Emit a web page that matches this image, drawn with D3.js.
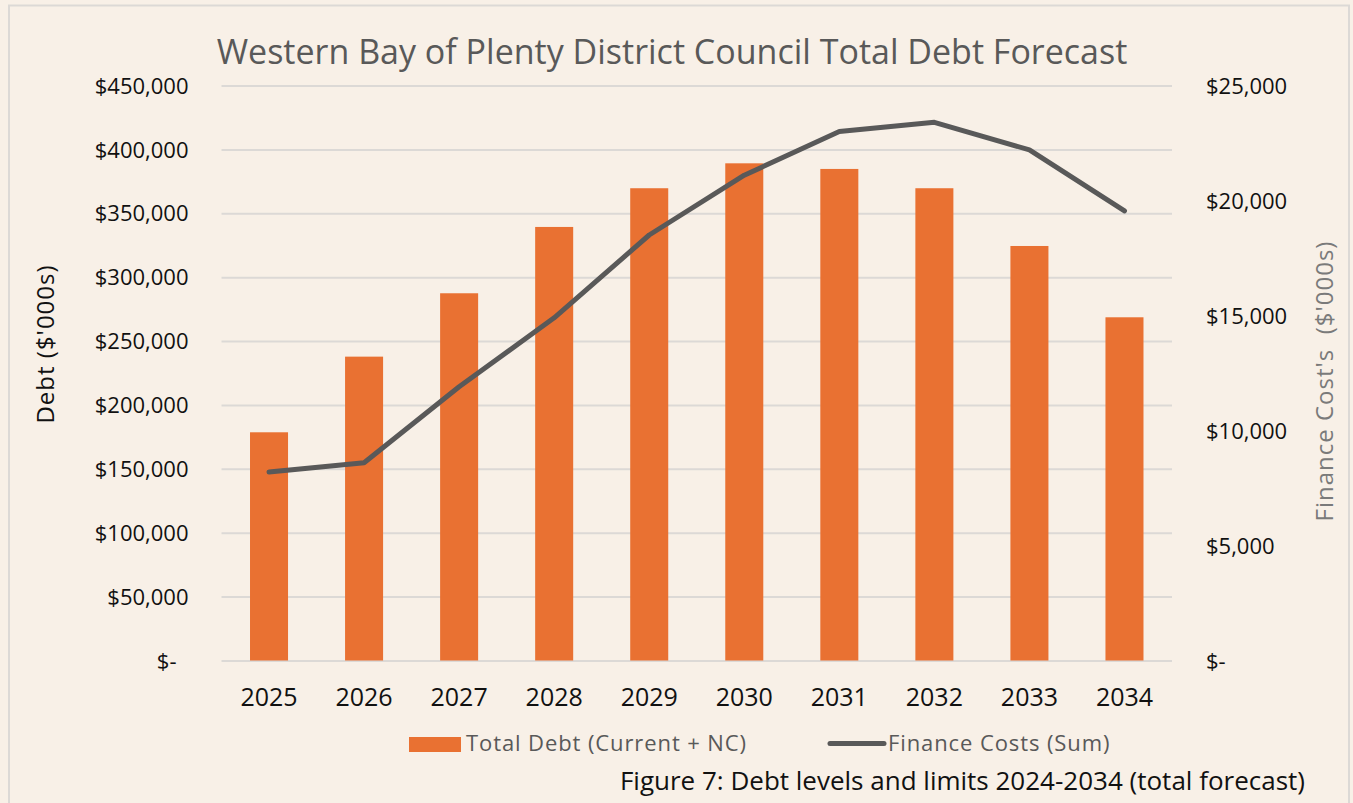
<!DOCTYPE html>
<html lang="en">
<head>
  <meta charset="UTF-8">
  <title>Western Bay of Plenty District Council Total Debt Forecast</title>
  <script src="https://d3js.org/d3.v7.min.js"></script>
  <style>
    body {
      margin: 0;
      background-color: #f8f0e7;
      font-family: "Open Sans", sans-serif;
    }

    .title {
      font-size: 34px;
      fill: #595959;
      text-anchor: middle;
    }

    .axis path,
    .axis line {
      stroke: none;
    }

    .axis text {
      font-family: "Open Sans", sans-serif;
      fill: #111;
    }

    .grid line {
      stroke: #dcd9d6;
      stroke-width: 2px;
    }

    .grid path {
      stroke: none;
    }

    .axis-label {
      font-size: 24px;
      letter-spacing: 1px;
      text-anchor: middle;
    }

    .legend-text {
      font-size: 22px;
      letter-spacing: 0.9px;
      fill: #595959;
    }

    .caption {
      font-size: 26px;
      fill: #111;
      text-anchor: end;
    }
  </style>
</head>
<body>
  <svg width="1353" height="803"></svg>
  <script>
    // Chart values
    const years = ["2025", "2026", "2027", "2028", "2029", "2030", "2031", "2032", "2033", "2034"];
    const totalDebt = [178600, 237800, 287400, 339300, 369600, 389100, 384700, 369600, 324400, 268600];
    const financeCosts = [8200, 8600, 11900, 14900, 18500, 21100, 23000, 23400, 22200, 19550];
    const debtTicks = [0, 50000, 100000, 150000, 200000, 250000, 300000, 350000, 400000, 450000];
    const costTicks = [0, 5000, 10000, 15000, 20000, 25000];

    const rows = years.map((y, i) => ({ year: y, debt: totalDebt[i], cost: financeCosts[i] }));

    const margin = { top: 85.5, right: 181, bottom: 142.5, left: 221.5 };
    const W = 1353, H = 803;
    const width = W - margin.left - margin.right;
    const height = H - margin.top - margin.bottom;

    const svg = d3.select("svg");

    // outer border of the chart box
    svg.append("rect")
      .attr("x", 9)
      .attr("y", 5.5)
      .attr("width", 1340)
      .attr("height", 820)
      .attr("fill", "none")
      .attr("stroke", "#dcd9d6")
      .attr("stroke-width", 2);

    const chart = svg.append("g")
      .attr("transform", `translate(${margin.left},${margin.top})`);

    // Scales
    const x = d3.scaleBand()
      .domain(years)
      .range([0, width])
      .paddingInner(0.6)
      .paddingOuter(0.3);

    const yLeft = d3.scaleLinear()
      .domain([0, 450000])
      .range([height, 0]);

    const yRight = d3.scaleLinear()
      .domain([0, 25000])
      .range([height, 0]);

    const money = d => d === 0 ? "$-" : "$" + d3.format(",")(d);

    // Title
    svg.append("text")
      .attr("class", "title")
      .attr("x", 672)
      .attr("y", 64)
      .text("Western Bay of Plenty District Council Total Debt Forecast");

    // Horizontal gridlines
    chart.append("g")
      .attr("class", "grid")
      .call(d3.axisLeft(yLeft)
        .tickValues(debtTicks)
        .tickSize(-width)
        .tickFormat(""));

    // Left axis
    chart.append("g")
      .attr("class", "axis")
      .attr("transform", "translate(-30,0)")
      .call(d3.axisLeft(yLeft).tickValues(debtTicks).tickFormat(money).tickSize(0))
      .selectAll("text")
      .style("font-size", "22px")
      .attr("dy", "0.35em")
      .attr("dx", d => d === 0 ? -12 : 0);

    // Right axis
    chart.append("g")
      .attr("class", "axis")
      .attr("transform", `translate(${width + 31},0)`)
      .call(d3.axisRight(yRight).tickValues(costTicks).tickFormat(money).tickSize(0))
      .selectAll("text")
      .style("font-size", "22px")
      .attr("dy", "0.35em");

    // X axis
    chart.append("g")
      .attr("class", "axis")
      .attr("transform", `translate(0,${height})`)
      .call(d3.axisBottom(x).tickSize(0).tickPadding(28))
      .selectAll("text")
      .style("font-size", "25px");

    // Bars
    chart.selectAll(".bar")
      .data(rows)
      .enter()
      .append("rect")
      .attr("class", "bar")
      .attr("x", d => x(d.year))
      .attr("y", d => yLeft(d.debt))
      .attr("width", x.bandwidth())
      .attr("height", d => height - yLeft(d.debt))
      .attr("fill", "#e97132");

    // Finance costs line
    const line = d3.line()
      .x(d => x(d.year) + x.bandwidth() / 2)
      .y(d => yRight(d.cost));

    chart.append("path")
      .datum(rows)
      .attr("fill", "none")
      .attr("stroke", "#595959")
      .attr("stroke-width", 5)
      .attr("stroke-linejoin", "round")
      .attr("stroke-linecap", "round")
      .attr("d", line);

    // Axis titles
    svg.append("text")
      .attr("class", "axis-label")
      .attr("transform", "translate(54,344) rotate(-90)")
      .attr("fill", "#111")
      .text("Debt ($'000s)");

    svg.append("text")
      .attr("class", "axis-label")
      .attr("transform", "translate(1333,381) rotate(-90)")
      .attr("fill", "#7a7a7a")
      .attr("xml:space", "preserve")
      .text("Finance Cost's  ($'000s)");

    // Legend
    const legend = svg.append("g");
    legend.append("rect")
      .attr("x", 409)
      .attr("y", 737)
      .attr("width", 52)
      .attr("height", 15)
      .attr("fill", "#e97132");
    legend.append("text")
      .attr("class", "legend-text")
      .attr("x", 466)
      .attr("y", 751)
      .text("Total Debt (Current + NC)");
    legend.append("line")
      .attr("x1", 830)
      .attr("x2", 884)
      .attr("y1", 743.5)
      .attr("y2", 743.5)
      .attr("stroke", "#595959")
      .attr("stroke-width", 5)
      .attr("stroke-linecap", "round");
    legend.append("text")
      .attr("class", "legend-text")
      .attr("x", 888)
      .attr("y", 751)
      .text("Finance Costs (Sum)");

    // Figure caption
    svg.append("text")
      .attr("class", "caption")
      .attr("x", 1305)
      .attr("y", 790)
      .text("Figure 7: Debt levels and limits 2024-2034 (total forecast)");
  </script>
</body>
</html>
